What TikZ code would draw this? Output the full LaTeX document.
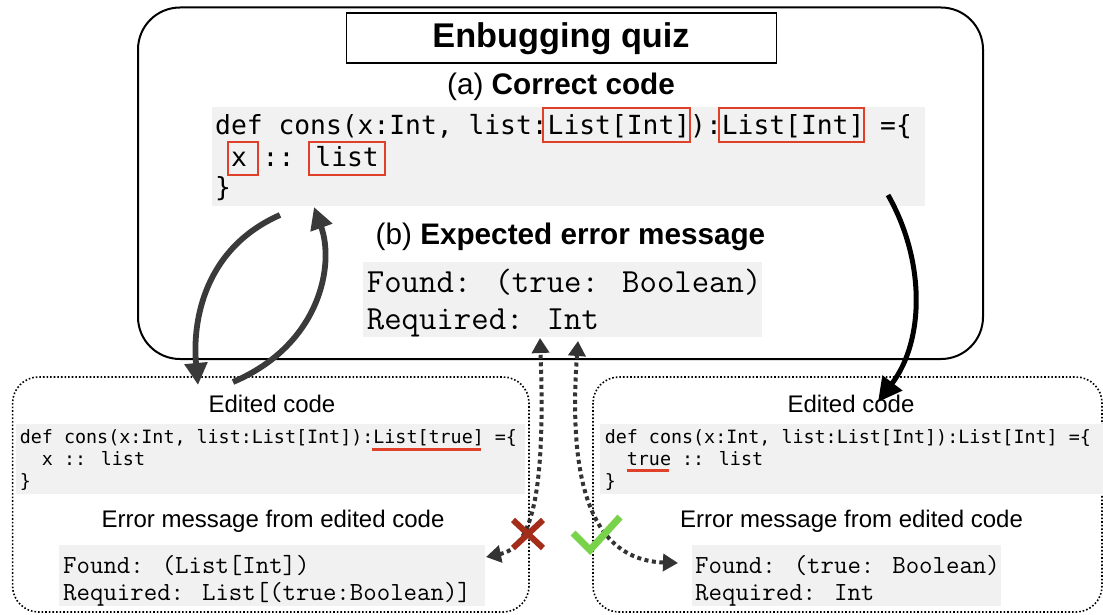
\documentclass[tikz,border=0pt]{standalone}
\usepackage{fontspec}
\setmainfont{Liberation Sans}
\newfontfamily\codefont{DejaVu Sans Mono}
\usetikzlibrary{arrows.meta}
\definecolor{codegray}{RGB}{241,241,241}
\definecolor{boxred}{RGB}{222,64,42}
\definecolor{arrowgray}{RGB}{58,58,58}
\definecolor{dotgray}{RGB}{51,51,51}
\definecolor{crossred}{RGB}{163,45,25}
\definecolor{checkgreen}{RGB}{120,210,74}
\begin{document}
\begin{tikzpicture}[x=1pt,y=-1pt,
  graybg/.style={fill=codegray, draw=none, inner sep=0pt, anchor=north west},
  label/.style={inner sep=0pt, anchor=base, font=\fontsize{24}{28}\selectfont},
  heading/.style={inner sep=0pt, anchor=base, font=\fontsize{29.7}{34}\selectfont},
  bigcode/.style={inner sep=0pt, anchor=base west, font=\fontsize{26.3}{30}\codefont},
  bigmsg/.style={inner sep=0pt, anchor=base west, font=\fontsize{33.8}{36}\ttfamily},
  smallcode/.style={inner sep=0pt, anchor=base west, font=\fontsize{18.35}{22}\codefont},
  smallmsg/.style={inner sep=0pt, anchor=base west, font=\fontsize{26.1}{27}\ttfamily},
  redbox/.style={draw=boxred, line width=2pt},
  redline/.style={draw=boxred, line width=3pt},
  mainbox/.style={draw=black, line width=2pt, rounded corners=42pt},
  dotbox/.style={draw=black, line width=1.6pt, dash pattern=on 1.6pt off 2pt, rounded corners=26pt},
  bigarrow/.style={draw=arrowgray, line width=5.8pt, -{Triangle[width=22pt,length=22pt]}},
  blackarrow/.style={draw=black, line width=5pt, -{Triangle[width=24pt,length=24pt]}},
  dotarrow/.style={draw=dotgray, line width=4pt, dash pattern=on 4pt off 3.5pt,
    {Triangle[width=17pt,length=15pt]}-{Triangle[width=17pt,length=15pt]}},
]
\useasboundingbox (0,0) rectangle (1103,615);

% main rounded box
\draw[mainbox] (138,7.5) rectangle (983,359);
% title
\node[draw=black, line width=1.5pt, inner sep=0pt, minimum width=430pt, minimum height=50pt, anchor=north west] (titlebox) at (345.7,12.3) {};
\node[inner sep=0pt, anchor=base, font=\fontsize{34.3}{40}\selectfont\bfseries] (title) at (561,47.5) {Enbugging quiz};
\node[heading] (ha) at (561,95) {(a) \textbf{Correct code}};

% correct code
\node[graybg, minimum width=713pt, minimum height=99pt] (codebg) at (212,107) {};
\node[bigcode] (c1) at (215,135) {def cons(x:Int, list:List[Int]):List[Int] =\{};
\node[bigcode] (c2) at (215,166) {\ x :: list};
\node[bigcode] (c3) at (215,196) {\}};
\draw[redbox] (543,108.5) rectangle (690,142);
\draw[redbox] (719,108.5) rectangle (864,142);
\draw[redbox] (228,142) rectangle (258,175);
\draw[redbox] (309,142) rectangle (385,175);

% expected error
\node[heading] (hb) at (570.5,244) {(b) \textbf{Expected error message}};
\node[graybg, minimum width=399pt, minimum height=75pt] (msgbg) at (363,262) {};
\node[bigmsg] (m1) at (366.7,292) {Found: (true: Boolean)};
\node[bigmsg] (m2) at (366.7,329) {Required: Int};

% left edited box
\draw[dotbox] (12.6,377) rectangle (529,612);
\node[label] (le) at (272,412) {Edited code};
\node[graybg, minimum width=509pt, minimum height=70pt] (lcodebg) at (16,424) {};
\node[smallcode] (l1) at (19.7,443) {def cons(x:Int, list:List[Int]):List[true] =\{};
\node[smallcode] (l2) at (19.7,465) {\ \ x :: list};
\node[smallcode] (l3) at (19.7,487) {\}};
\draw[redline] (372,449) -- (481,449);
\node[label] (lem) at (273,527) {Error message from edited code};
\node[graybg, minimum width=426pt, minimum height=61pt] (lmsgbg) at (59,545) {};
\node[smallmsg] (lm1) at (63,573) {Found: (List[Int])};
\node[smallmsg] (lm2) at (63,600) {Required: List[(true:Boolean)]};

% right edited box
\draw[dotbox] (593,377) rectangle (1102,612);
\node[label] (re) at (851,412) {Edited code};
\node[graybg, minimum width=503pt, minimum height=70pt] (rcodebg) at (600,424) {};
\node[smallcode] (r1) at (604.6,443) {def cons(x:Int, list:List[Int]):List[Int] =\{};
\node[smallcode] (r2) at (604.6,465) {\ \ true :: list};
\node[smallcode] (r3) at (604.6,487) {\}};
\draw[redline] (626.6,470.5) -- (669,470.5);
\node[label] (rem) at (851.5,527) {Error message from edited code};
\node[graybg, minimum width=309pt, minimum height=61pt] (rmsgbg) at (692,545) {};
\node[smallmsg] (rm1) at (695,573) {Found: (true: Boolean)};
\node[smallmsg] (rm2) at (695,600) {Required: Int};

% arrow end points
\coordinate (aS) at (280,215);
\coordinate (aE) at (198,385);
\coordinate (bS) at (233,382);
\coordinate (bE) at (314,207);
\coordinate (kS) at (888,195);
\coordinate (kE) at (878,402);
\coordinate (dLa) at (486,557);
\coordinate (dLb) at (540,338);
\coordinate (dRa) at (578,341);
\coordinate (dRb) at (678,563);

\draw[bigarrow] (aS) .. controls (205,248) and (192,320) .. (aE);
\draw[bigarrow] (bS) .. controls (320,345) and (335,265) .. (bE);
\draw[blackarrow] (kS) .. controls (925,260) and (925,340) .. (kE);
\draw[dotarrow] (dLa) .. controls (530,548) and (546,500) .. (dLb);
\draw[dotarrow] (dRa) .. controls (568,480) and (590,560) .. (dRb);

% cross and check
\draw[crossred, line width=6pt] (513,520) -- (543,548) (543,520) -- (513,548);
\draw[checkgreen, line width=7pt] (573,533) -- (590,550) -- (620,517);
\end{tikzpicture}
\end{document}
